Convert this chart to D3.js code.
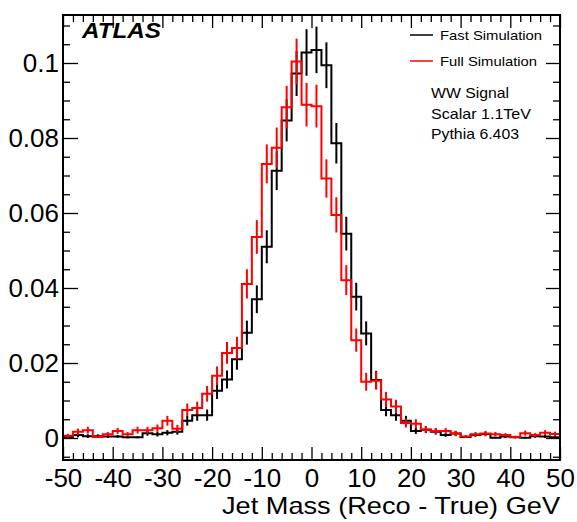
<!DOCTYPE html>
<html>
<head>
<meta charset="utf-8">
<script src="https://cdn.jsdelivr.net/npm/d3@7/dist/d3.min.js"></script>
<style>
  html, body { margin: 0; padding: 0; background: #fff; }
  svg { display: block; font-family: "Liberation Sans", Arial, Helvetica, sans-serif; }
</style>
</head>
<body>
<svg id="chart" width="577" height="522"></svg>
<script>
// ---- data (bins of 2 GeV from -50 to 50) ----
const binEdgesStart = [-50, -48, -46, -44, -42, -40, -38, -36, -34, -32, -30, -28, -26, -24, -22, -20, -18, -16, -14, -12,
  -10, -8, -6, -4, -2, 0, 2, 4, 6, 8, 10, 12, 14, 16, 18, 20, 22, 24, 26, 28, 30, 32, 34, 36, 38, 40, 42, 44, 46, 48];
const binWidth = 2;

const fastValues = [0.0003, 0.0008, 0.0005, 0.0005, 0.0004, 0.0004, 0.0002, 0.0002, 0.0013, 0.0010,
  0.0014, 0.0017, 0.0046, 0.0061, 0.0061, 0.0126, 0.0156, 0.0210, 0.0281, 0.0370,
  0.0510, 0.0713, 0.0847, 0.0972, 0.1028, 0.1035, 0.0994, 0.0786, 0.0545, 0.0377,
  0.0279, 0.0155, 0.0075, 0.0061, 0.0046, 0.0019, 0.0022, 0.0017, 0.0008, 0.0012,
  0.0003, 0.0008, 0.0011, 0.0001, 0.0004, 0.0002, 0.0001, 0.0005, 0.0004, 0.0002];
const fastErrors = [0.0004, 0.0006, 0.0005, 0.0005, 0.0004, 0.0004, 0.0003, 0.0003, 0.0007, 0.0006,
  0.0007, 0.0008, 0.0013, 0.0015, 0.0015, 0.0022, 0.0024, 0.0028, 0.0032, 0.0037,
  0.0044, 0.0052, 0.0056, 0.0060, 0.0062, 0.0062, 0.0061, 0.0054, 0.0045, 0.0037,
  0.0032, 0.0024, 0.0017, 0.0015, 0.0013, 0.0008, 0.0009, 0.0008, 0.0005, 0.0007,
  0.0003, 0.0005, 0.0006, 0.0002, 0.0004, 0.0003, 0.0002, 0.0004, 0.0004, 0.0003];

const fullValues = [0.0006, 0.0017, 0.0021, 0.0003, 0.0010, 0.0019, 0.0010, 0.0021, 0.0021, 0.0026,
  0.0046, 0.0025, 0.0075, 0.0080, 0.0118, 0.0166, 0.0227, 0.0240, 0.0411, 0.0536,
  0.0731, 0.0774, 0.0882, 0.1004, 0.0889, 0.0885, 0.0692, 0.0595, 0.0421, 0.0261,
  0.0150, 0.0153, 0.0103, 0.0084, 0.0040, 0.0038, 0.0023, 0.0019, 0.0019, 0.0012,
  0.0004, 0.0010, 0.0012, 0.0010, 0.0008, 0.0003, 0.0013, 0.0008, 0.0014, 0.0011];
const fullErrors = [0.0005, 0.0008, 0.0009, 0.0003, 0.0006, 0.0008, 0.0006, 0.0009, 0.0009, 0.0010,
  0.0013, 0.0010, 0.0017, 0.0017, 0.0021, 0.0025, 0.0029, 0.0030, 0.0039, 0.0045,
  0.0052, 0.0054, 0.0057, 0.0061, 0.0058, 0.0057, 0.0051, 0.0047, 0.0040, 0.0031,
  0.0024, 0.0024, 0.0020, 0.0018, 0.0012, 0.0012, 0.0009, 0.0008, 0.0008, 0.0007,
  0.0004, 0.0006, 0.0007, 0.0006, 0.0005, 0.0003, 0.0007, 0.0005, 0.0007, 0.0006];

const xTickValues = [-50, -40, -30, -20, -10, 0, 10, 20, 30, 40, 50];
const xTickLabels = ["-50", "-40", "-30", "-20", "-10", "0", "10", "20", "30", "40", "50"];
const yTickValues = [0, 0.02, 0.04, 0.06, 0.08, 0.1];
const yTickLabels = ["0", "0.02", "0.04", "0.06", "0.08", "0.1"];
const xMinorStep = 2;
const yMinorStep = 0.005;

const seriesNames = ["Fast Simulation", "Full Simulation"];
const infoLines = ["WW Signal", "Scalar 1.1TeV", "Pythia 6.403"];
const xTitle = "Jet Mass (Reco - True) GeV";

// ---- layout ----
const L = 63, R = 560, T = 15, B = 460;
const svg = d3.select("#chart");

const x = d3.scaleLinear().domain([-50, 50]).range([L, R]);
const y = d3.scaleLinear().domain([0, 0.1]).range([438, 63]);
const yMin = y.invert(B), yMax = y.invert(T);

svg.append("defs").append("clipPath").attr("id", "plotclip")
  .append("rect").attr("x", L).attr("y", T).attr("width", R - L).attr("height", B - T);

const xMinor = d3.range(-50, 50.001, xMinorStep).filter(v => !xTickValues.some(t => Math.abs(t - v) < 1e-9));
const yMinor = d3.range(Math.ceil(yMin / yMinorStep) * yMinorStep, yMax, yMinorStep)
  .filter(v => !yTickValues.some(t => Math.abs(t - v) < 1e-9));

const tickStyle = g => {
  g.select(".domain").remove();
  g.selectAll(".tick line").attr("stroke", "#000").attr("stroke-width", 1.3);
};
const labelStyle = g => g.selectAll("text").attr("font-size", 26).attr("fill", "#000")
  .attr("font-family", "Liberation Sans, Arial, sans-serif");

// bottom axis (labels + major ticks)
svg.append("g").attr("transform", `translate(0,${B})`)
  .call(d3.axisBottom(x).tickValues(xTickValues).tickSizeInner(-13).tickSizeOuter(0).tickPadding(9)
    .tickFormat((d, i) => xTickLabels[i]))
  .call(tickStyle).call(labelStyle);
svg.append("g").attr("transform", `translate(0,${B})`)
  .call(d3.axisBottom(x).tickValues(xMinor).tickSizeInner(-7).tickSizeOuter(0).tickFormat(""))
  .call(tickStyle);
// top axis (ticks only)
svg.append("g").attr("transform", `translate(0,${T})`)
  .call(d3.axisTop(x).tickValues(xTickValues).tickSizeInner(-13).tickSizeOuter(0).tickFormat(""))
  .call(tickStyle);
svg.append("g").attr("transform", `translate(0,${T})`)
  .call(d3.axisTop(x).tickValues(xMinor).tickSizeInner(-7).tickSizeOuter(0).tickFormat(""))
  .call(tickStyle);
// left axis
svg.append("g").attr("transform", `translate(${L},0)`)
  .call(d3.axisLeft(y).tickValues(yTickValues).tickSizeInner(-15).tickSizeOuter(0).tickPadding(4)
    .tickFormat((d, i) => yTickLabels[i]))
  .call(tickStyle).call(labelStyle);
svg.append("g").attr("transform", `translate(${L},0)`)
  .call(d3.axisLeft(y).tickValues(yMinor).tickSizeInner(-7).tickSizeOuter(0).tickFormat(""))
  .call(tickStyle);
// right axis
svg.append("g").attr("transform", `translate(${R},0)`)
  .call(d3.axisRight(y).tickValues(yTickValues).tickSizeInner(-14).tickSizeOuter(0).tickFormat(""))
  .call(tickStyle);
svg.append("g").attr("transform", `translate(${R},0)`)
  .call(d3.axisRight(y).tickValues(yMinor).tickSizeInner(-7).tickSizeOuter(0).tickFormat(""))
  .call(tickStyle);

// ---- histograms ----
const plot = svg.append("g").attr("clip-path", "url(#plotclip)");
function drawHist(values, errors, color) {
  const pts = [];
  values.forEach((v, i) => {
    pts.push([x(binEdgesStart[i]), y(v)]);
    pts.push([x(binEdgesStart[i] + binWidth), y(v)]);
  });
  plot.append("path").attr("d", d3.line()(pts))
    .attr("fill", "none").attr("stroke", color).attr("stroke-width", 2);
  plot.append("g").selectAll("line").data(values).join("line")
    .attr("x1", (d, i) => x(binEdgesStart[i] + binWidth / 2))
    .attr("x2", (d, i) => x(binEdgesStart[i] + binWidth / 2))
    .attr("y1", (d, i) => y(d - errors[i]))
    .attr("y2", (d, i) => y(d + errors[i]))
    .attr("stroke", color).attr("stroke-width", 2);
}
drawHist(fastValues, fastErrors, "#000000");
drawHist(fullValues, fullErrors, "#ff0000");

// frame
svg.append("rect").attr("x", L).attr("y", T).attr("width", R - L).attr("height", B - T)
  .attr("fill", "none").attr("stroke", "#000").attr("stroke-width", 2);

// ---- texts ----
svg.append("text").attr("x", 222).attr("y", 514)
  .attr("font-size", 24).attr("textLength", 338).attr("lengthAdjust", "spacingAndGlyphs")
  .attr("fill", "#000").text(xTitle);

svg.append("text").attr("x", 82).attr("y", 38).attr("font-size", 22)
  .attr("textLength", 79).attr("lengthAdjust", "spacingAndGlyphs")
  .attr("font-weight", "bold").attr("font-style", "italic").attr("fill", "#000").text("ATLAS");

const legendColors = ["#000000", "#ff0000"];
const legendY = [35, 61];
const legendLen = [102, 97];
seriesNames.forEach((name, i) => {
  svg.append("line").attr("x1", 410).attr("x2", 433).attr("y1", legendY[i]).attr("y2", legendY[i])
    .attr("stroke", legendColors[i]).attr("stroke-width", 1.5);
  svg.append("text").attr("x", 440).attr("y", legendY[i] + 5).attr("font-size", 13.5)
    .attr("textLength", legendLen[i]).attr("lengthAdjust", "spacingAndGlyphs")
    .attr("fill", "#000").text(name);
});
const infoY = [98, 119, 139];
const infoLen = [78, 100, 88];
infoLines.forEach((t, i) => {
  svg.append("text").attr("x", 431).attr("y", infoY[i]).attr("font-size", 15)
    .attr("textLength", infoLen[i]).attr("lengthAdjust", "spacingAndGlyphs")
    .attr("fill", "#000").text(t);
});
</script>
</body>
</html>
